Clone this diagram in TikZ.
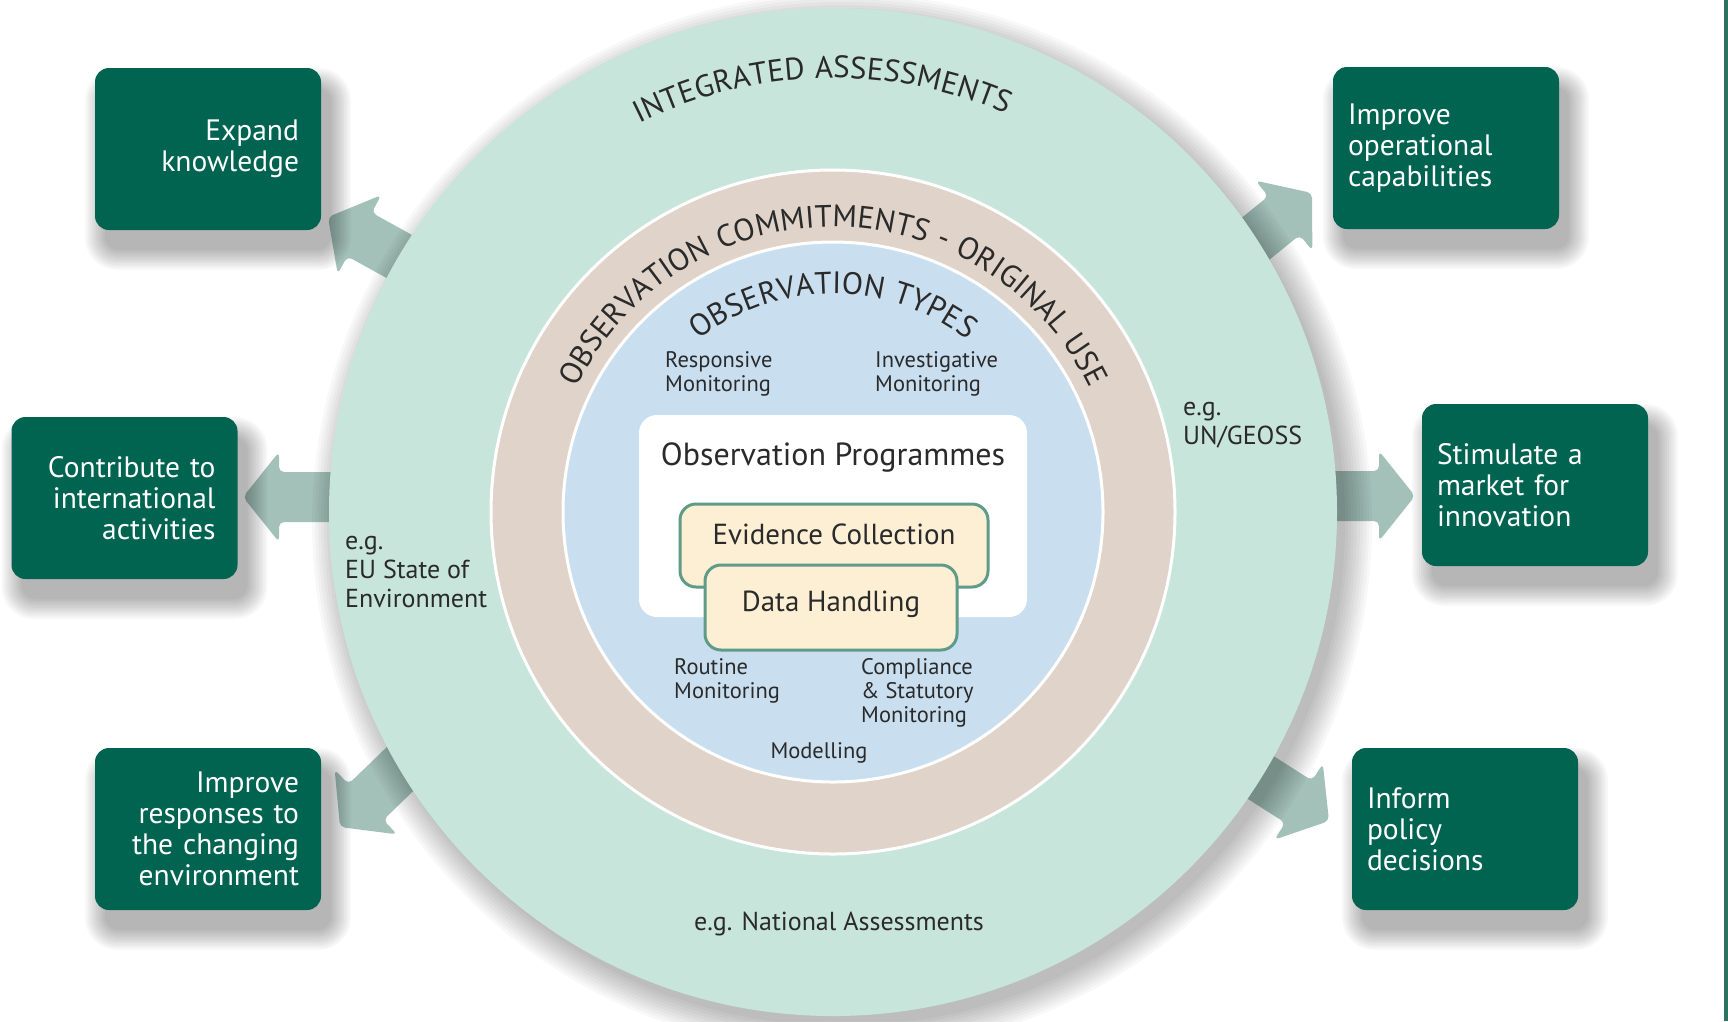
\documentclass[tikz,border=0pt]{standalone}
\usepackage{fontspec}
\setmainfont{PT Sans}
\newfontfamily\arcfont[LetterSpace=4]{PT Sans}
\usetikzlibrary{decorations.text,calc}
\definecolor{mint}{HTML}{C8E5DB}
\definecolor{ringtan}{HTML}{E0D4CA}
\definecolor{skyb}{HTML}{C9DFF0}
\definecolor{boxgreen}{HTML}{006451}
\definecolor{cream}{HTML}{FDEFD4}
\definecolor{creamborder}{HTML}{5E9B88}
\definecolor{arrowc}{HTML}{A3C1B9}
\definecolor{inktext}{HTML}{2A2A2A}
\definecolor{stripe}{HTML}{2E7260}
\newcommand{\softshadow}[1]{%
  \foreach \k [evaluate=\k as \rr using 14+2*\k, evaluate=\k as \ee using 2.2*\k] in {0,...,9}{%
    \fill[black, opacity=0.03, rounded corners=\rr pt]
      ($(#1)+(-113-\ee+10, -81-\ee-20)$) rectangle ($(#1)+(113+\ee+10, 81+\ee-20)$);}}
\tikzset{
  fatarrow/.pic={\fill[arrowc, rounded corners=5pt] (0,0) -- (-36,45) -- (-36,25) -- (-150,25) -- (-150,-25) -- (-36,-25) -- (-36,-45) -- cycle;},
  goalbox/.style={fill=boxgreen, rounded corners=14pt, minimum width=226pt, minimum height=162pt,
    text=white, font=\fontsize{29.5}{31}\selectfont},
  goalR/.style={goalbox, align=right, text width=182pt, inner xsep=22pt},
  goalL/.style={goalbox, align=left, text width=196pt, inner xsep=15pt},
  lab/.style={text=inktext, font=\fontsize{22.5}{24}\selectfont, align=left, inner sep=0pt},
  labbig/.style={text=inktext, font=\fontsize{26}{29}\selectfont, align=left, inner sep=0pt},
  arctext/.style={decorate, decoration={text along path, text align=center, text color=inktext, text={#1}}},
  innerbox/.style={fill=cream, draw=creamborder, line width=3pt, rounded corners=16pt},
}
\begin{document}
\begin{tikzpicture}[x=1pt,y=1pt]
\useasboundingbox (0,0) rectangle (1728,-1021);
\fill[white] (0,0) rectangle (1728,-1021);
\fill[stripe] (1724,0) rectangle (1728,-1021);
\coordinate (C) at (833,-512);
% box centres
\coordinate (cExpand) at (208,-149);
\coordinate (cContrib) at (124.5,-498);
\coordinate (cRespond) at (208,-829);
\coordinate (cOper) at (1446,-148);
\coordinate (cStim) at (1535,-485);
\coordinate (cInform) at (1465,-829);
% arrow tips
\coordinate (t1) at (328,-217);
\coordinate (t2) at (243,-497);
\coordinate (t3) at (340,-827);
\coordinate (t4) at (1312,-193);
\coordinate (t5) at (1415,-496);
\coordinate (t6) at (1329,-821);
\pic[rotate=151] at (t1) {fatarrow};
\pic[rotate=180] at (t2) {fatarrow};
\pic[rotate=224] at (t3) {fatarrow};
\pic[rotate=39] at (t4) {fatarrow};
\pic[rotate=0] at (t5) {fatarrow};
\pic[rotate=-32.5] at (t6) {fatarrow};
% box shadows
\softshadow{cExpand}
\softshadow{cContrib}
\softshadow{cRespond}
\softshadow{cOper}
\softshadow{cStim}
\softshadow{cInform}
% circle shadow
\foreach \k [evaluate=\k as \rr using 503+3*\k] in {0,...,9}{
  \fill[black, opacity=0.028] ($(C)+(9,-11)$) circle[radius=\rr];}
% circles
\node[circle, fill=mint, minimum size=1008pt, inner sep=0pt] (outer) at (C) {};
\node[circle, fill=ringtan, draw=white, line width=3pt, minimum size=684pt, inner sep=0pt] (ring) at (C) {};
\node[circle, fill=skyb, draw=white, line width=3pt, minimum size=540pt, inner sep=0pt] (inner) at (C) {};
% curved titles
\path[arctext={|\arcfont\fontsize{31}{31}\selectfont|INTEGRATED ASSESSMENTS}]
  ($(C)+(151.5:434)$) arc[start angle=151.5, end angle=31.5, radius=434];
\path[arctext={|\arcfont\fontsize{31}{31}\selectfont|OBSERVATION COMMITMENTS - ORIGINAL USE}]
  ($(C)+(178:285)$) arc[start angle=178, end angle=2, radius=285];
\path[arctext={|\arcfont\fontsize{31}{31}\selectfont|OBSERVATION TYPES}]
  ($(C)+(150:218)$) arc[start angle=150, end angle=30, radius=218];
% central boxes
\node[fill=white, rounded corners=18pt, minimum width=388pt, minimum height=202pt] (prog) at (833,-516) {};
\node[text=inktext, font=\fontsize{32}{36}\selectfont] (progt) at (833,-457) {Observation Programmes};
\node[innerbox, minimum width=308pt, minimum height=83pt] (evid) at (834,-545.5) {};
\node[text=inktext, font=\fontsize{29}{33}\selectfont] (evidt) at (834,-534) {Evidence Collection};
\node[innerbox, minimum width=252pt, minimum height=85pt] (data) at (831,-607.5) {};
\node[text=inktext, font=\fontsize{29}{33}\selectfont] (datat) at (831,-604) {Data Handling};
% labels in circle
\node[lab, anchor=west] (resp) at (665,-374) {Responsive\\Monitoring};
\node[lab, anchor=west] (invest) at (875,-374) {Investigative\\Monitoring};
\node[lab, anchor=west] (routine) at (674,-681) {Routine\\Monitoring};
\node[lab, anchor=west] (compl) at (861,-693) {Compliance\\\& Statutory\\Monitoring};
\node[lab] (model) at (819,-753) {Modelling};
\node[labbig, anchor=west] (un) at (1183,-425) {e.g.\\UN/GEOSS};
\node[labbig, anchor=west] (eu) at (345,-572) {e.g.\\EU State of\\Environment};
\node[labbig] (nat) at (839,-924) {e.g. National Assessments};
% goal boxes
\node[goalR] (expand) at (cExpand) {Expand\\knowledge};
\node[goalR] (contrib) at (cContrib) {Contribute to\\international\\activities};
\node[goalR] (respond) at (cRespond) {Improve\\responses to\\the changing\\environment};
\node[goalL] (oper) at (cOper) {Improve\\operational\\capabilities};
\node[goalL] (stim) at (cStim) {Stimulate a\\market for\\innovation};
\node[goalL] (inform) at (cInform) {Inform\\policy\\decisions};
\end{tikzpicture}
\end{document}
